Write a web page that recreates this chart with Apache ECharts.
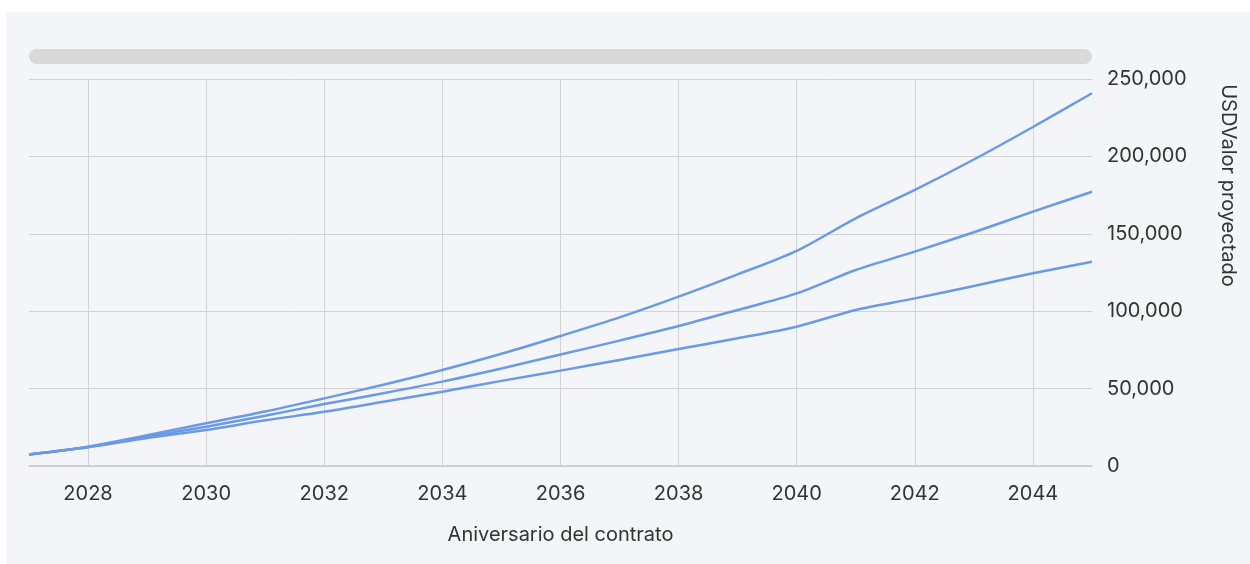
<!DOCTYPE html>
<html>
<head>
<meta charset="utf-8">
<script src="https://cdn.jsdelivr.net/npm/echarts@6/dist/echarts.min.js"></script>
<style>
html,body{margin:0;padding:0;background:#ffffff;}
#panel{position:absolute;left:6px;top:12px;width:1244px;height:552px;background:#f3f5f9;}
#chart{position:absolute;left:0;top:0;width:1250px;height:564px;}
</style>
</head>
<body>
<div id="panel"></div>
<div id="chart"></div>
<script>
const years = ['2027','2028','2029','2030','2031','2032','2033','2034','2035','2036','2037','2038','2039','2040','2041','2042','2043','2044','2045'];
const seriesHigh = [7500, 12500, 19800, 27600, 35200, 43700, 52500, 62000, 72500, 84000, 96000, 109400, 123800, 139000, 160000, 178300, 198000, 219000, 240800];
const seriesMid  = [7500, 12300, 18900, 25400, 32500, 40000, 47000, 54500, 63000, 72000, 81000, 90400, 100800, 111500, 126600, 138500, 151000, 164300, 177200];
const seriesLow  = [7500, 12100, 18000, 23300, 29500, 35000, 41500, 48000, 55000, 61600, 68500, 75600, 82500, 90000, 100800, 108300, 116300, 124500, 132000];
const xName = 'Aniversario del contrato';
const yName = 'USDValor proyectado';

const chart = echarts.init(document.getElementById('chart'), null, {renderer: 'canvas'});
const lineColor = '#6a9ae6';
const font = 'Inter, "Noto Sans", sans-serif';
const gridLeft = 29, gridRight = 158, gridTop = 79, gridBottom = 98;
function mk(name, data) {
  return {
    name: name, type: 'line', data: data, smooth: 0.3, symbol: 'none',
    lineStyle: {color: lineColor, width: 2.5}, itemStyle: {color: lineColor}
  };
}
chart.setOption({
  backgroundColor: 'transparent',
  animation: false,
  textStyle: {fontFamily: font},
  grid: {left: gridLeft, right: gridRight, top: gridTop, bottom: gridBottom, containLabel: false},
  graphic: [{
    type: 'rect', left: gridLeft, top: 49, silent: true,
    shape: {width: 1250 - gridLeft - gridRight, height: 15, r: 7.5},
    style: {fill: '#d9d9d9'}
  }],
  xAxis: {
    type: 'category', data: years, boundaryGap: false,
    name: xName, nameLocation: 'middle', nameGap: 59,
    nameTextStyle: {fontSize: 20, color: '#333', fontFamily: font},
    axisLine: {show: true, lineStyle: {color: '#c8c8cc', width: 1.5}},
    axisTick: {show: false},
    axisLabel: {
      fontSize: 20, color: '#333', margin: 18, fontFamily: font,
      interval: function (i, v) { return Number(v) % 2 === 0; }
    },
    splitLine: {
      show: true, lineStyle: {color: '#d2d2d7', width: 1},
      interval: function (i, v) { return Number(v) % 2 === 0; }
    }
  },
  yAxis: {
    type: 'value', position: 'right', min: 0, max: 250000, interval: 50000,
    name: yName, nameLocation: 'middle', nameRotate: -90, nameGap: 126,
    nameTextStyle: {fontSize: 20, color: '#333', fontFamily: font, padding: [0, 174, 0, 0]},
    axisLine: {show: false}, axisTick: {show: false},
    axisLabel: {
      fontSize: 20, color: '#333', margin: 15, fontFamily: font,
      formatter: function (v) { return v.toLocaleString('en-US'); }
    },
    splitLine: {show: true, lineStyle: {color: '#d2d2d7', width: 1}}
  },
  series: [mk('Alto', seriesHigh), mk('Medio', seriesMid), mk('Bajo', seriesLow)]
});
</script>
</body>
</html>
